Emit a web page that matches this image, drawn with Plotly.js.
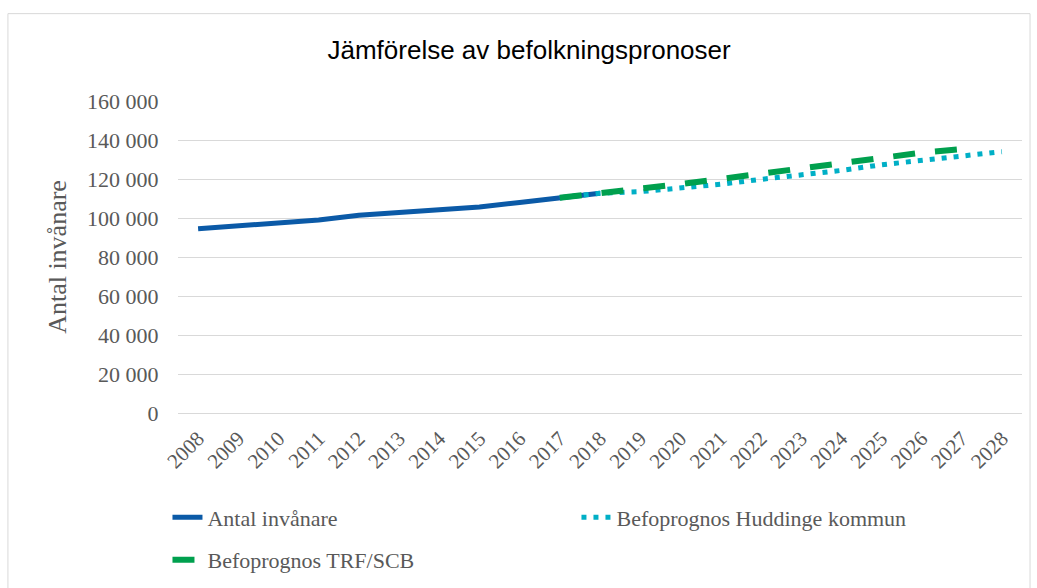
<!DOCTYPE html>
<html>
<head>
<meta charset="utf-8">
<script src="https://cdn.plot.ly/plotly-3.0.1.min.js"></script>
<style>html,body{margin:0;padding:0;background:#fff;}#chart{width:1037px;height:588px;}</style>
</head>
<body>
<div id="chart"></div>
<script>
const years = ["2008","2009","2010","2011","2012","2013","2014","2015","2016","2017","2018","2019","2020","2021","2022","2023","2024","2025","2026","2027","2028"];
const antalYears = ["2008","2009","2010","2011","2012","2013","2014","2015","2016","2017","2018"];
const antalValues = [94500, 95900, 97300, 99000, 101400, 103000, 104400, 105700, 108000, 110400, 112700];
const huddingeYears = ["2017","2018","2019","2020","2021","2022","2023","2024","2025","2026","2027","2028"];
const huddingeValues = [110400, 112700, 113500, 115200, 117300, 119800, 122000, 124400, 127300, 129700, 131800, 134000];
const trfYears = ["2017","2018","2019","2020","2021","2022","2023","2024","2025","2026","2027"];
const trfValues = [110400, 112700, 114600, 117400, 120000, 122600, 125400, 128100, 130800, 133500, 135300];

const serif = "Liberation Serif, Times New Roman, serif";
const grey = "#595959";

const traces = [
  {x: antalYears, y: antalValues, name: "Antal invånare", type: "scatter", mode: "lines",
   line: {color: "#0B5AA7", width: 5}, legend: "legend"},
  {x: huddingeYears, y: huddingeValues, name: "Befoprognos Huddinge kommun", type: "scatter", mode: "lines",
   line: {color: "#00AFC6", width: 5, dash: "5px,7px"}, legend: "legend2"},
  {x: trfYears, y: trfValues, name: "Befoprognos TRF/SCB", type: "scatter", mode: "lines",
   line: {color: "#00A04E", width: 6, dash: "22px,20px"}, legend: "legend3"}
];

const legendFont = {family: serif, size: 22, color: grey};
const legendBase = {orientation: "h", xref: "container", yref: "container", xanchor: "left", yanchor: "top",
                    bgcolor: "rgba(0,0,0,0)", font: legendFont, itemwidth: 30};

const layout = {
  width: 1037, height: 588,
  margin: {l: 178, r: 15, t: 101, b: 175},
  paper_bgcolor: "#fff", plot_bgcolor: "#fff",
  separators: ", ",
  showlegend: true,
  title: {text: "Jämförelse av befolkningspronoser", font: {family: "Liberation Sans, Arial, sans-serif", size: 26, color: "#000"},
          xref: "paper", x: 0.416, xanchor: "center", yref: "container", y: 0.915, yanchor: "middle"},
  xaxis: {type: "category", categoryarray: years, categoryorder: "array", range: [-0.5, 20.5],
          tickangle: -45, tickfont: {family: serif, size: 21, color: grey},
          showgrid: false, showline: true, linecolor: "#d9d9d9", linewidth: 1,
          ticks: "outside", ticklen: 4, tickcolor: "rgba(0,0,0,0)", zeroline: false},
  yaxis: {range: [0, 160000], dtick: 20000, tickformat: ",.0f", tickfont: {family: serif, size: 22, color: grey},
          gridcolor: "#d9d9d9", gridwidth: 1, zeroline: false, showline: false, ticks: "outside", ticklen: 14, tickcolor: "rgba(0,0,0,0)",
          title: {text: "Antal invånare", font: {family: serif, size: 26, color: grey}, standoff: 12}},
  legend: Object.assign({}, legendBase, {x: 0.1615, y: 0.1556}),
  legend2: Object.assign({}, legendBase, {x: 0.5559, y: 0.1556}),
  legend3: Object.assign({}, legendBase, {x: 0.1615, y: 0.0833}),
  shapes: [{type: "rect", xref: "paper", yref: "paper", x0: -0.2015, x1: 1.0095, y0: -0.58, y1: 1.28,
            line: {color: "#d9d9d9", width: 1}, fillcolor: "rgba(0,0,0,0)", layer: "below"}]
};

Plotly.newPlot("chart", traces, layout, {displayModeBar: false, staticPlot: true});
</script>
</body>
</html>
